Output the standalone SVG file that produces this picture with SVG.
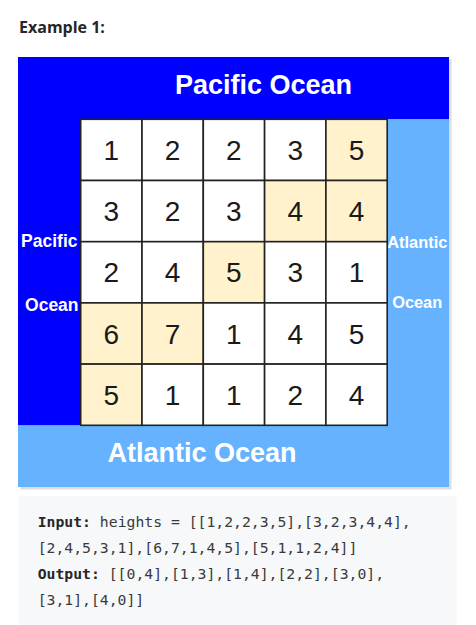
<svg xmlns="http://www.w3.org/2000/svg" width="476" height="625" viewBox="0 0 476 625">
<style>
.cell{stroke:#222;stroke-width:1.6}
.w{fill:#ffffff}
.h{fill:#fff2cc}
.num{font-family:"Liberation Sans",Arial,sans-serif;font-size:28px;fill:#1a1a1a;text-anchor:middle}
.ocean{font-family:"Liberation Sans",Arial,sans-serif;font-weight:bold;fill:#ffffff;text-anchor:middle}
.code{font-family:"DejaVu Sans Mono",monospace;font-size:14.75px;fill:#3a3a3a}
.b{font-weight:bold;fill:#262626}
</style>
<rect width="476" height="625" fill="#ffffff"/>
<text x="19" y="33" font-family="Open Sans, sans-serif" font-weight="bold" font-size="16" fill="#262626">Example 1:</text>
<g id="picture">
<rect x="20.5" y="59.5" width="431" height="430" fill="#d0d0d0" opacity="0.7"/>
<rect x="18" y="57" width="431" height="62" fill="#0000ff"/>
<rect x="387" y="119" width="62" height="368" fill="#66b2ff"/>
<rect x="18" y="119" width="63" height="306.5" fill="#0000ff"/>
<rect x="18" y="425.3" width="431" height="61.7" fill="#66b2ff"/>
<text class="ocean" x="263.5" y="94" font-size="27">Pacific Ocean</text>
<text class="ocean" x="202" y="462" font-size="27">Atlantic Ocean</text>
<text class="ocean" x="49.3" y="247" font-size="17.5">Pacific</text>
<text class="ocean" x="51.8" y="311" font-size="17.5">Ocean</text>
<text class="ocean" x="417.3" y="248.3" font-size="16.4">Atlantic</text>
<text class="ocean" x="417.2" y="308.3" font-size="16.4">Ocean</text>
</g>
<g id="grid">
<g id="c00"><rect class="cell w" x="80.7" y="119.3" width="61.3" height="61.2"/><text class="num" x="111.3" y="160">1</text></g>
<g id="c01"><rect class="cell w" x="142" y="119.3" width="61.3" height="61.2"/><text class="num" x="172.6" y="160">2</text></g>
<g id="c02"><rect class="cell w" x="203.3" y="119.3" width="61.3" height="61.2"/><text class="num" x="233.9" y="160">2</text></g>
<g id="c03"><rect class="cell w" x="264.6" y="119.3" width="61.3" height="61.2"/><text class="num" x="295.2" y="160">3</text></g>
<g id="c04"><rect class="cell h" x="325.9" y="119.3" width="61.3" height="61.2"/><text class="num" x="356.5" y="160">5</text></g>
<g id="c10"><rect class="cell w" x="80.7" y="180.5" width="61.3" height="61.2"/><text class="num" x="111.3" y="221.2">3</text></g>
<g id="c11"><rect class="cell w" x="142" y="180.5" width="61.3" height="61.2"/><text class="num" x="172.6" y="221.2">2</text></g>
<g id="c12"><rect class="cell w" x="203.3" y="180.5" width="61.3" height="61.2"/><text class="num" x="233.9" y="221.2">3</text></g>
<g id="c13"><rect class="cell h" x="264.6" y="180.5" width="61.3" height="61.2"/><text class="num" x="295.2" y="221.2">4</text></g>
<g id="c14"><rect class="cell h" x="325.9" y="180.5" width="61.3" height="61.2"/><text class="num" x="356.5" y="221.2">4</text></g>
<g id="c20"><rect class="cell w" x="80.7" y="241.7" width="61.3" height="61.2"/><text class="num" x="111.3" y="282.4">2</text></g>
<g id="c21"><rect class="cell w" x="142" y="241.7" width="61.3" height="61.2"/><text class="num" x="172.6" y="282.4">4</text></g>
<g id="c22"><rect class="cell h" x="203.3" y="241.7" width="61.3" height="61.2"/><text class="num" x="233.9" y="282.4">5</text></g>
<g id="c23"><rect class="cell w" x="264.6" y="241.7" width="61.3" height="61.2"/><text class="num" x="295.2" y="282.4">3</text></g>
<g id="c24"><rect class="cell w" x="325.9" y="241.7" width="61.3" height="61.2"/><text class="num" x="356.5" y="282.4">1</text></g>
<g id="c30"><rect class="cell h" x="80.7" y="302.9" width="61.3" height="61.2"/><text class="num" x="111.3" y="343.6">6</text></g>
<g id="c31"><rect class="cell h" x="142" y="302.9" width="61.3" height="61.2"/><text class="num" x="172.6" y="343.6">7</text></g>
<g id="c32"><rect class="cell w" x="203.3" y="302.9" width="61.3" height="61.2"/><text class="num" x="233.9" y="343.6">1</text></g>
<g id="c33"><rect class="cell w" x="264.6" y="302.9" width="61.3" height="61.2"/><text class="num" x="295.2" y="343.6">4</text></g>
<g id="c34"><rect class="cell w" x="325.9" y="302.9" width="61.3" height="61.2"/><text class="num" x="356.5" y="343.6">5</text></g>
<g id="c40"><rect class="cell h" x="80.7" y="364.1" width="61.3" height="61.2"/><text class="num" x="111.3" y="404.8">5</text></g>
<g id="c41"><rect class="cell w" x="142" y="364.1" width="61.3" height="61.2"/><text class="num" x="172.6" y="404.8">1</text></g>
<g id="c42"><rect class="cell w" x="203.3" y="364.1" width="61.3" height="61.2"/><text class="num" x="233.9" y="404.8">1</text></g>
<g id="c43"><rect class="cell w" x="264.6" y="364.1" width="61.3" height="61.2"/><text class="num" x="295.2" y="404.8">2</text></g>
<g id="c44"><rect class="cell w" x="325.9" y="364.1" width="61.3" height="61.2"/><text class="num" x="356.5" y="404.8">4</text></g>
</g>
<g id="codeblock">
<rect x="18.3" y="496" width="438.4" height="130" rx="4" fill="#f7f8fa"/>
<text class="code" x="37.7" y="527"><tspan class="b">Input:</tspan> heights = [[1,2,2,3,5],[3,2,3,4,4],</text>
<text class="code" x="37.7" y="553">[2,4,5,3,1],[6,7,1,4,5],[5,1,1,2,4]]</text>
<text class="code" x="37.7" y="579"><tspan class="b">Output:</tspan> [[0,4],[1,3],[1,4],[2,2],[3,0],</text>
<text class="code" x="37.7" y="605">[3,1],[4,0]]</text>
</g>
</svg>
